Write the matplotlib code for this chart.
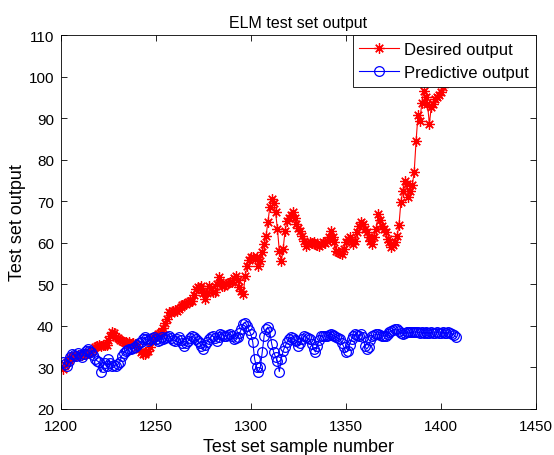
import matplotlib.pyplot as plt
import numpy as np

plt.rcParams['font.family'] = ['Liberation Sans', 'DejaVu Sans']

# 测试样本编号
sample_no = np.arange(1201, 1409)

desired = [
    29.6, 30.5, 31.3, 31.8, 32.2, 32.5, 32.8, 32.8, 33.0, 33.1,
    33.0, 33.2, 33.2, 33.5, 33.7, 33.7, 34.2, 34.8, 35.2, 35.3,
    35.2, 35.4, 35.5, 35.4, 36.5, 37.6, 38.5, 38.3, 37.3, 37.0,
    36.6, 36.4, 36.0, 36.2, 35.8, 36.0, 35.7, 35.9, 35.6, 35.0,
    34.5, 33.6, 33.2, 33.2, 33.8, 34.0, 35.0, 36.5, 37.2, 37.6,
    38.0, 38.3, 38.5, 39.5, 40.8, 41.7, 43.3, 43.0, 43.5, 43.8,
    43.6, 44.0, 44.6, 45.0, 45.2, 45.3, 45.8, 46.0, 46.0, 47.5,
    48.8, 49.4, 49.2, 49.6, 48.0, 46.5, 48.0, 49.6, 49.0, 48.2,
    48.2, 50.0, 51.8, 50.5, 49.6, 49.6, 50.0, 50.3, 50.5, 50.5,
    51.5, 52.0, 51.0, 49.4, 48.5, 47.7, 52.0, 54.4, 55.8, 56.6,
    56.6, 56.2, 56.6, 54.3, 55.5, 57.8, 59.7, 61.6, 65.0, 68.6,
    70.5, 69.5, 67.4, 63.3, 58.0, 55.6, 58.5, 62.8, 65.2, 66.0,
    66.8, 67.4, 66.0, 64.5, 63.5, 62.8, 61.6, 60.5, 59.2, 59.8,
    60.2, 60.0, 60.2, 59.8, 59.5, 59.2, 59.8, 60.2, 60.0, 60.5,
    61.5, 62.8, 61.5, 60.2, 58.0, 57.8, 57.5, 57.3, 58.5, 60.2,
    60.8, 61.4, 60.5, 59.7, 60.5, 62.5, 64.0, 65.0, 64.5, 63.3,
    62.6, 61.4, 60.5, 59.7, 61.5, 63.3, 66.9, 65.5, 64.0, 63.3,
    62.6, 61.0, 60.2, 59.0, 59.5, 60.2, 61.6, 64.3, 69.8, 72.5,
    74.9, 74.1, 71.0, 72.5, 73.9, 77.0, 84.5, 90.7, 89.3, 93.6,
    96.5, 95.0, 93.4, 88.6, 92.7, 93.5, 94.6, 95.0, 95.5, 96.3,
    97.5, 98.5, 99.0, 100.2, 99.5, 100.8, 101.5, 100.5,
]

predictive = [
    31.3, 30.8, 30.3, 31.5, 32.5, 33.2, 33.0, 32.8, 33.5, 33.0,
    32.5, 33.2, 34.0, 34.4, 34.0, 33.7, 33.0, 32.0, 31.6, 31.3,
    28.9, 30.0, 31.0, 30.3, 32.0, 31.0, 30.3, 30.5, 30.3, 30.8,
    31.3, 32.8, 33.5, 34.0, 34.2, 34.5, 34.4, 34.6, 34.9, 35.5,
    35.8, 36.1, 36.8, 37.3, 36.8, 36.4, 36.8, 37.0, 37.3, 36.8,
    36.4, 36.6, 37.3, 36.8, 37.0, 37.3, 37.6, 37.0, 36.6, 36.4,
    36.8, 37.3, 36.5, 35.8, 35.2, 35.8, 36.4, 37.0, 37.6, 37.2,
    36.8, 36.4, 35.8, 35.2, 34.4, 35.5, 36.2, 36.8, 37.4, 37.6,
    37.0, 36.4, 37.2, 38.0, 37.8, 37.6, 37.6, 37.8, 38.0, 37.5,
    36.8, 37.0, 37.3, 38.2, 39.2, 40.5, 40.8, 40.0, 39.0, 38.0,
    36.1, 32.0, 30.1, 28.9, 30.1, 33.7, 37.6, 39.2, 39.7, 38.5,
    35.6, 33.7, 32.5, 31.5, 29.0, 32.0, 34.0, 35.0, 36.1, 36.8,
    37.3, 37.0, 36.6, 36.4, 35.2, 35.8, 36.8, 37.6, 37.2, 37.0,
    36.8, 35.6, 34.5, 33.7, 35.2, 36.5, 37.6, 37.6, 37.5, 37.6,
    37.8, 38.0, 37.8, 37.5, 37.3, 37.0, 36.8, 35.8, 34.9, 33.7,
    34.0, 35.5, 36.8, 37.6, 38.0, 37.8, 37.6, 38.0, 37.3, 35.2,
    34.4, 35.0, 36.5, 37.6, 37.8, 38.0, 38.0, 37.8, 37.6, 37.6,
    37.6, 38.0, 38.5, 38.8, 39.0, 39.2, 39.2, 38.8, 38.3, 38.0,
    38.2, 38.5, 38.5, 38.4, 38.5, 38.5, 38.5, 38.4, 38.3, 38.4,
    38.3, 38.4, 38.3, 38.3, 38.4, 38.3, 38.3, 38.4, 38.3, 38.3,
    38.4, 38.3, 38.3, 38.4, 38.3, 38.1, 37.8, 37.3,
]

fig = plt.figure(figsize=(5.54, 4.56), dpi=100)
ax = fig.add_axes([0.110, 0.101, 0.857, 0.820])

# MATLAB 风格的星号标记
ax.plot(sample_no, desired, color='red', marker=(8, 2, 0), markersize=7.5,
        markeredgewidth=0.9, linewidth=0.8, label='Desired output')
ax.plot(sample_no, predictive, color='blue', marker='o', markersize=7,
        markerfacecolor='none', markeredgewidth=0.9, linewidth=0.8,
        label='Predictive output')

ax.set_xlim(1200, 1450)
ax.set_ylim(20, 110)
ax.set_xticks(np.arange(1200, 1451, 50))
ax.set_yticks(np.arange(20, 111, 10))
ax.tick_params(direction='in', top=True, right=True, labelsize=11,
               length=4, width=0.6)
ax.tick_params(axis='x', pad=7)
ax.tick_params(axis='y', pad=5)
for s in ax.spines.values():
    s.set_linewidth(0.6)

ax.set_xlabel('Test set sample number', fontsize=13, labelpad=4)
ax.set_ylabel('Test set output', fontsize=13, labelpad=2)
ax.set_title('ELM test set output', fontsize=11.5, pad=6)

leg = ax.legend(loc='upper right', fontsize=12, fancybox=False,
                framealpha=1, edgecolor='black', borderaxespad=0,
                handlelength=2.4, borderpad=0.4, labelspacing=0.5,
                handletextpad=0.3)
leg.get_frame().set_linewidth(0.6)

fig.savefig('out.png', dpi=100)
